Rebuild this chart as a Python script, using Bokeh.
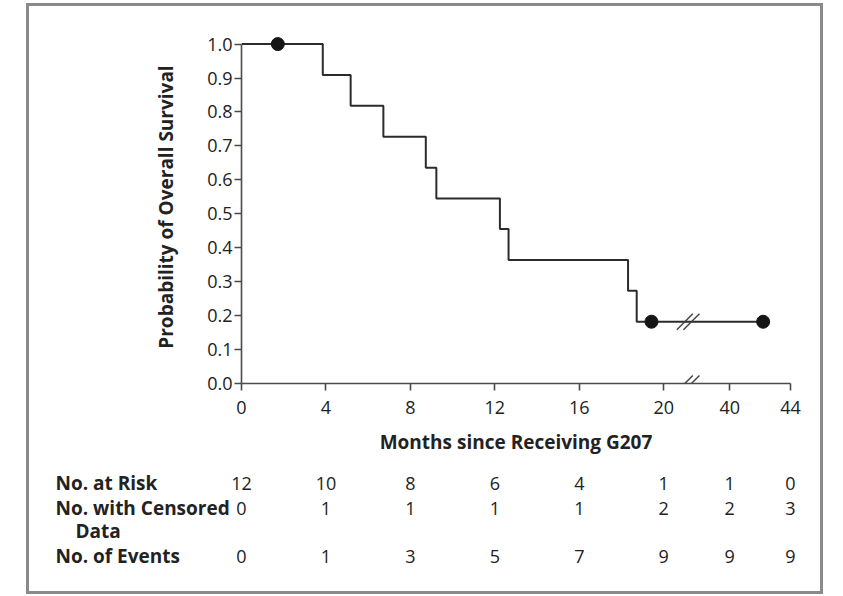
from bokeh.plotting import figure
from bokeh.layouts import column, row
from bokeh.models import (FixedTicker, Range1d, Arrow, PrintfTickFormatter,
                          ColumnDataSource)
from bokeh.core.properties import value
from bokeh.embed import file_html
from bokeh.resources import INLINE

# ---------------- data ----------------
event_times = [0, 3.85, 5.17, 6.72, 8.73, 9.23, 12.24, 12.65, 18.31, 18.72]
survival = [1.0, 0.909, 0.818, 0.727, 0.636, 0.545, 0.455, 0.364, 0.273, 0.182]
last_followup = 42.2
censor_times = [1.72, 19.42, 42.2]
censor_surv = [1.0, 0.182, 0.182]
tick_months = [0, 4, 8, 12, 16, 20, 40, 44]
y_ticks = [0.0, 0.1, 0.2, 0.3, 0.4, 0.5, 0.6, 0.7, 0.8, 0.9, 1.0]
at_risk = [12, 10, 8, 6, 4, 1, 1, 0]
censored = [0, 1, 1, 1, 1, 2, 2, 3]
events = [0, 1, 3, 5, 7, 9, 9, 9]
row_labels = ["No. at Risk", "No. with Censored", "Data", "No. of Events"]

# broken time axis: 0-20 months linear, then 40-44 compressed after a gap
BREAK_AT = 20
RESUME_AT = 40
GAP = 3.125
SCALE2 = 0.72


def disp(t):
    return t if t <= BREAK_AT else BREAK_AT + GAP + (t - RESUME_AT) * SCALE2


X_END = disp(44)
FONT = "Open Sans"
INK = "#222222"
LINE = "#2b2b2b"

# ---------------- layout sizes ----------------
W = 797
H_TOP, H_BOT = 460, 131
ML, MR, MT, MB = 215, 33, 27, 80
Y_END = 1.04
fw = W - ML - MR
fh = H_TOP - MT - MB
px_per_unit = fw / X_END

# ---------------- survival plot ----------------
p = figure(width=W, height=H_TOP, output_backend="svg", toolbar_location=None,
           x_range=Range1d(0, X_END), y_range=Range1d(0, Y_END),
           min_border_left=ML, min_border_right=MR, min_border_top=MT,
           min_border_bottom=MB)
p.grid.visible = False
p.outline_line_color = None
p.background_fill_color = None
p.border_fill_color = None

xs = [disp(t) for t in event_times] + [disp(last_followup)]
ys = survival + [survival[-1]]
p.step(xs, ys, mode="after", line_color=LINE, line_width=2)
p.scatter([disp(t) for t in censor_times], censor_surv, size=13,
          fill_color="#151515", line_color="#151515")

for ax in (p.xaxis[0], p.yaxis[0]):
    ax.axis_line_color = "#4a4a4a"
    ax.axis_line_width = 1.6
    ax.major_tick_line_color = "#4a4a4a"
    ax.major_tick_line_width = 1.6
    ax.major_tick_in = 0
    ax.major_tick_out = 7
    ax.minor_tick_line_color = None
    ax.major_label_text_font = FONT
    ax.major_label_text_font_size = "18px"
    ax.major_label_text_color = INK
    ax.axis_label_text_font = FONT
    ax.axis_label_text_font_style = "bold"
    ax.axis_label_text_font_size = "19px"
    ax.axis_label_text_color = INK

xa = p.xaxis[0]
xa.bounds = (0, X_END)
xa.ticker = FixedTicker(ticks=[disp(t) for t in tick_months])
xa.major_label_overrides = {disp(t): str(t) for t in tick_months}
xa.major_label_standoff = 10
xa.axis_label = "Months since Receiving G207"
xa.axis_label_standoff = 12

ya = p.yaxis[0]
ya.bounds = (0, 1)
ya.ticker = FixedTicker(ticks=y_ticks)
ya.formatter = PrintfTickFormatter(format="%.1f")
ya.major_label_standoff = 2
ya.axis_label = "Probability of Overall Survival"
ya.axis_label_standoff = 25

# axis-break marks on the curve and on the time axis
bx = disp(BREAK_AT) + 0.37 * GAP
sw = 16 / px_per_unit
sh = 16 / fh * Y_END
off = 3.3 / px_per_unit
for yb in (survival[-1], 0.0):
    for o in (-off, off):
        p.add_layout(Arrow(end=None, x_start=bx + o - sw / 2, y_start=yb - sh / 2,
                           x_end=bx + o + sw / 2, y_end=yb + sh / 2,
                           line_color="#404040", line_width=1.4))

# ---------------- risk table (same time scale, wider frame) ----------------
t = figure(width=W, height=H_BOT, output_backend="svg", toolbar_location=None,
           x_range=Range1d(-ML / px_per_unit, (W - ML) / px_per_unit),
           y_range=Range1d(H_BOT, 0),
           min_border_left=0, min_border_right=0, min_border_top=0,
           min_border_bottom=0)
t.axis.visible = False
t.grid.visible = False
t.outline_line_color = None
t.background_fill_color = None
t.border_fill_color = None

row_y = [19.5, 44.5, 67.5, 92.5]     # row centres, px from top of table area
label_x = [-ML / px_per_unit + 29 / px_per_unit] * 4
label_x[2] = -ML / px_per_unit + 49 / px_per_unit

tx, ty, tt = [], [], []
for r, vals in ((0, at_risk), (1, censored), (3, events)):
    for m, v in zip(tick_months, vals):
        tx.append(disp(m))
        ty.append(row_y[r])
        tt.append(str(v))
t.text(x="x", y="y", text="text", source=ColumnDataSource(dict(x=tx, y=ty, text=tt)),
       text_align="center", text_baseline="middle",
       text_font=value(FONT), text_font_size="18px", text_color=INK)
t.text(x=label_x, y=row_y, text=row_labels, text_align="left",
       text_baseline="middle", text_font=value(FONT),
       text_font_style="bold", text_font_size="19px", text_color=INK)

layout = column(row(p), row(t), spacing=0,
                styles={"margin-left": "26px", "margin-top": "3px",
                        "outline": "3px solid #8a8a8a",
                        "outline-offset": "-3px"})

open("out.html", "w").write(file_html(layout, INLINE))
